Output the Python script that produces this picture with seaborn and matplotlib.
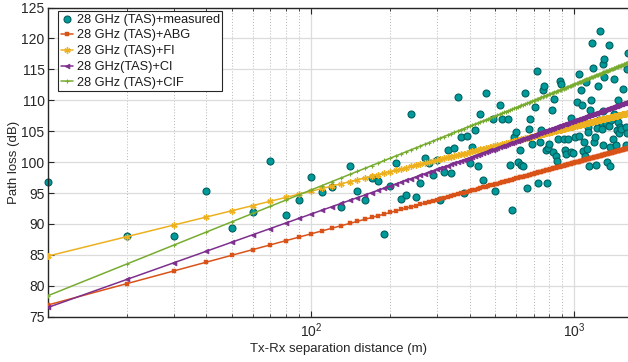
import numpy as np
import pandas as pd
import matplotlib
matplotlib.use("Agg")
import matplotlib.pyplot as plt
import seaborn as sns
from matplotlib.ticker import FixedLocator, LogFormatterMathtext, NullFormatter, MultipleLocator

# ---------------- data ----------------
meas_label = "28 GHz (TAS)+measured"
meas_d = [10, 20, 30, 40, 50, 60, 70, 80, 90, 100, 110, 120, 130, 140, 150, 160, 170, 180, 190, 200,
          210, 220, 230, 240, 250, 260, 270, 280, 290, 300, 310, 320, 330, 340, 350, 360, 370, 380, 390, 400,
          410, 420, 430, 440, 450, 460, 490, 500, 520, 530, 560, 570, 580, 590, 600, 610, 620, 630, 640, 650,
          660, 670, 680, 690, 710, 720, 730, 740, 750, 760, 770, 780, 790, 795, 800, 820, 830, 840, 850, 860,
          870, 880, 890, 910, 920, 930, 950, 970, 970, 990, 1010, 1020, 1040, 1040, 1060, 1070, 1080, 1090, 1100, 1110,
          1120, 1130, 1130, 1140, 1150, 1160, 1170, 1180, 1190, 1200, 1210, 1220, 1230, 1240, 1250, 1270, 1275, 1290, 1290, 1290,
          1300, 1300, 1320, 1330, 1350, 1350, 1370, 1370, 1380, 1400, 1410, 1410, 1440, 1440, 1450, 1460, 1460, 1480, 1490, 1510,
          1530, 1570, 1570, 1580, 1580, 1600]
meas_pl = [96.8, 88.0, 88.0, 95.4, 89.3, 91.9, 100.2, 91.5, 93.8, 97.6, 95.1, 95.9, 92.8, 99.3, 95.4, 93.8, 97.4, 97.0, 88.3, 96.2,
           99.8, 94.1, 94.7, 107.8, 94.4, 96.6, 100.6, 99.8, 97.9, 100.3, 93.9, 98.4, 102.0, 98.2, 102.2, 110.5, 104.1, 95.0, 104.3, 99.8,
           102.4, 105.2, 99.4, 107.8, 97.1, 111.1, 107.0, 95.4, 109.2, 107.0, 107.0, 99.6, 92.2, 104.0, 104.8, 100.0, 102.0, 99.6, 99.3, 111.2,
           95.8, 105.4, 107.0, 103.0, 108.9, 114.8, 96.7, 103.2, 105.2, 111.6, 112.3, 102.0, 96.7, 102.3, 103.0, 108.4, 101.7, 110.2, 101.0, 100.1,
           103.7, 113.1, 112.6, 103.7, 102.0, 101.3, 103.7, 101.6, 107.1, 101.4, 104.0, 109.7, 114.2, 104.3, 111.6, 109.2, 101.8, 103.3, 101.0, 112.9,
           102.1, 105.6, 104.8, 99.4, 108.5, 110.0, 119.2, 115.2, 103.3, 104.0, 99.5, 105.5, 112.3, 106.8, 121.2, 106.3, 105.3, 115.8, 108.3, 102.8,
           116.6, 113.8, 106.4, 100.0, 118.9, 105.8, 102.4, 99.4, 106.8, 103.7, 113.4, 107.8, 107.3, 102.8, 105.2, 110.0, 106.5, 104.7, 105.6, 105.3,
           111.8, 102.8, 105.7, 115.0, 104.7, 117.7]

# model fits: path loss at 10 m and slope (dB per decade)
model_labels = ["28 GHz (TAS)+ABG", "28 GHz (TAS)+FI", "28 GHz(TAS)+CI", "28 GHz (TAS)+CIF"]
model_pl_10m = [76.9, 84.8, 76.5, 78.4]
model_slope = [11.5, 10.5, 15.1, 17.1]
model_colors = ["#D95319", "#EDB120", "#7E2F8E", "#77AC30"]
line_d = np.arange(10, 1610, 10)

# ---------------- style ----------------
sns.set_theme(style="white")
plt.rcParams["font.family"] = ["Liberation Sans", "DejaVu Sans"]
plt.rcParams["mathtext.fontset"] = "custom"
plt.rcParams["mathtext.rm"] = "Liberation Sans"
plt.rcParams["mathtext.it"] = "Liberation Sans:italic"
plt.rcParams["mathtext.bf"] = "Liberation Sans:bold"

fig = plt.figure(figsize=(6.28, 3.62), dpi=100)
ax = fig.add_axes([48 / 628, 45.3 / 362, 1 - 48 / 628, 309.2 / 362])

sns.scatterplot(x=meas_d, y=meas_pl, ax=ax, s=25, color="#009a9a", edgecolor="#00605f",
                linewidth=0.8, label=meas_label, clip_on=False, zorder=2)

marker_specs = [
    dict(marker="s", markersize=2.8, markeredgewidth=0.3),
    dict(marker=(6, 2, 0), markersize=4.5, markeredgewidth=1.0),
    dict(marker="<", markersize=3.5, markeredgewidth=0.5),
    dict(marker="+", markersize=3.0, markeredgewidth=0.8),
]
for lab, a, b, c, ms in zip(model_labels, model_pl_10m, model_slope, model_colors, marker_specs):
    df = pd.DataFrame({"d": line_d, "pl": a + b * np.log10(line_d / 10.0)})
    sns.lineplot(data=df, x="d", y="pl", ax=ax, color=c, linewidth=1.1, label=lab,
                 markeredgecolor=c, markerfacecolor=c, zorder=3, **ms)

ax.set_xscale("log")
ax.set_xlim(10, 1600)
ax.set_ylim(75, 125)
ax.xaxis.set_major_locator(FixedLocator([100, 1000]))
ax.xaxis.set_major_formatter(LogFormatterMathtext())
ax.xaxis.set_minor_locator(FixedLocator([20, 30, 40, 50, 60, 70, 80, 90,
                                         200, 300, 400, 500, 600, 700, 800, 900]))
ax.xaxis.set_minor_formatter(NullFormatter())
ax.yaxis.set_major_locator(MultipleLocator(5))

ax.grid(True, which="major", axis="both", color="#dcdcdc", linewidth=0.9, linestyle="-", zorder=0)
ax.grid(True, which="minor", axis="x", color="#b5b5b5", linewidth=0.7, linestyle=(0, (1, 2)), zorder=0)
ax.set_axisbelow(True)

for side in ["left", "bottom", "top"]:
    ax.spines[side].set_visible(True)
    ax.spines[side].set_color("#262626")
    ax.spines[side].set_linewidth(1.0)
ax.spines["right"].set_visible(False)

ax.tick_params(which="both", direction="in", top=True, bottom=True, left=True, right=False,
               colors="#262626", labelsize=10)
ax.tick_params(axis="y", pad=2.5)
ax.tick_params(which="major", length=4, width=0.8)
ax.tick_params(which="minor", length=2.2, width=0.6)

ax.set_xlabel("Tx-Rx separation distance (m)", fontsize=9.5, color="#262626", labelpad=2)
ax.set_ylabel("Path loss (dB)", fontsize=9.5, color="#262626", labelpad=1)

leg = ax.legend(loc="upper left", bbox_to_anchor=(10 / 580, 1 - 3.5 / 309.2), borderaxespad=0,
                fontsize=9.2, frameon=True, fancybox=False, framealpha=1, edgecolor="#262626",
                handlelength=1.0, handletextpad=0.25, labelspacing=0.3, borderpad=0.2)
leg.get_frame().set_linewidth(0.8)
for t in leg.get_texts():
    t.set_color("#1a1a1a")

fig.savefig("out.png", dpi=100)
